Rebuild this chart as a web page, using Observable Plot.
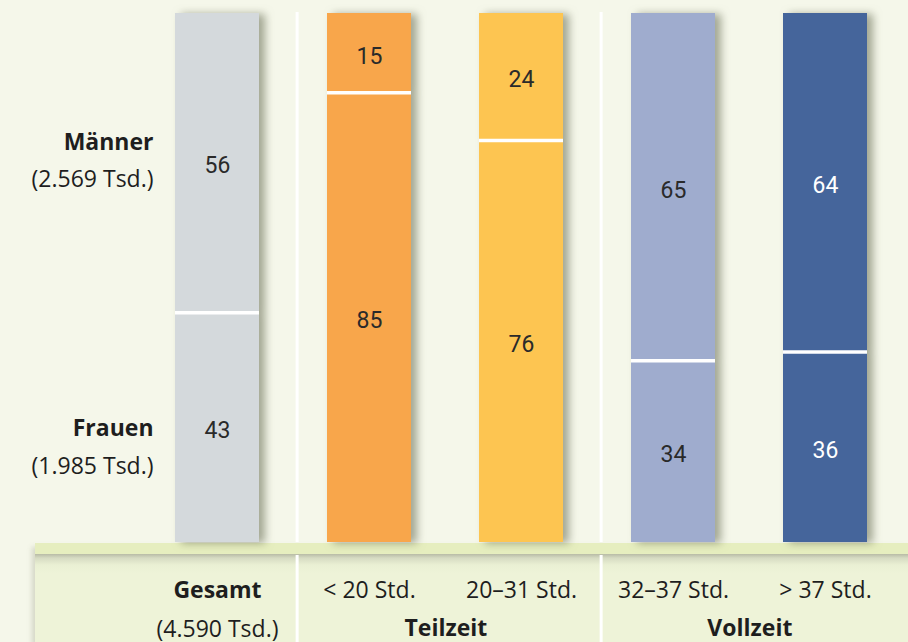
<!DOCTYPE html>
<html>
<head>
<meta charset="utf-8">
<script src="https://cdn.jsdelivr.net/npm/d3@7"></script>
<script src="https://cdn.jsdelivr.net/npm/@observablehq/plot@0.6"></script>
<style>
  html, body { margin: 0; padding: 0; background: #f5f7ea; }
  #wrap { position: relative; width: 908px; height: 642px; overflow: hidden; background: #f5f7ea; }
  #band {
    position: absolute; left: 35px; top: 543px; right: 0; bottom: 0;
    background: linear-gradient(to bottom, #e6eebf 0px, #e6eebf 11px, #b8bba6 11px, #d6dbc2 15px, #eaf0d4 22px, #eef3d8 30px);
    box-shadow: -3px 4px 5px rgba(120,125,100,0.25);
  }
  #chart { position: absolute; left: 0; top: 0; }
</style>
</head>
<body>
<div id="wrap"><div id="band"></div><div id="chart"></div></div>
<script>
// ---- data ----
const categories = ["Gesamt", "< 20 Std.", "20–31 Std.", "32–37 Std.", "> 37 Std."];
const frauen  = [43, 85, 76, 34, 36];
const maenner = [56, 15, 24, 65, 64];
const barColors = ["#d4d9dc", "#f8a64b", "#fdc551", "#9facce", "#45659b"];
const seriesNames = ["Frauen", "Männer"];
const seriesCounts = {"Männer": "(2.569 Tsd.)", "Frauen": "(1.985 Tsd.)"};
const totalLabel = "(4.590 Tsd.)";
const groups = [
  {name: "Teilzeit", first: "< 20 Std."},
  {name: "Vollzeit", first: "32–37 Std."}
];

const rows = [];
categories.forEach((c, i) => {
  rows.push({cat: c, series: "Frauen", value: frauen[i]});
  rows.push({cat: c, series: "Männer", value: maenner[i]});
});

// ---- layout ----
const xRange = [173, 868];
const padInner = 0.45;
const step = (xRange[1] - xRange[0]) / (categories.length - padInner);
const bandW = step * (1 - padInner);

const labelFont = "'Open Sans', 'Noto Sans', sans-serif";
const valueFont = "Roboto, 'Open Sans', sans-serif";
const stk = (extra) => ({x: "cat", y: "value", z: "series", offset: "normalize", ...extra});

const leftLabel = (series, field, dy, bold) => Plot.text(rows, Plot.stackY(stk({
  text: d => (d.cat === "Gesamt" && d.series === series) ? (field === "name" ? d.series : seriesCounts[d.series]) : null,
  textAnchor: "end", dx: -bandW / 2 - 22, dy,
  fontSize: 23, fontWeight: bold ? "bold" : "normal", fontFamily: labelFont, fill: "#1e1e1e"
})));

const chart = Plot.plot({
  width: 908,
  height: 642,
  marginTop: 13,
  marginBottom: 100,
  marginLeft: 0,
  marginRight: 0,
  style: {background: "transparent", overflow: "visible"},
  x: {domain: categories, range: xRange, paddingInner: padInner, paddingOuter: 0, axis: null},
  y: {domain: [0, 1], axis: null},
  color: {domain: categories, range: barColors},
  marks: [
    // group dividers
    Plot.ruleX(groups, {x: "first", dx: -step / 2 + 4, stroke: "white", strokeWidth: 3, insetTop: -1}),
    Plot.ruleX(groups, {x: "first", dx: -step / 2 + 4, stroke: "white", strokeWidth: 3, insetTop: 542, insetBottom: -100}),
    // stacked bars
    Plot.barY(rows, Plot.stackY(stk({fill: "cat"}))),
    // white separators between segments
    Plot.tickY(rows, Plot.stackY2(stk({stroke: d => d.series === "Frauen" ? "white" : "none", strokeWidth: 3.5}))),
    // values
    Plot.text(rows, Plot.stackY(stk({
      text: "value", dy: 3,
      fill: d => d.cat === "> 37 Std." ? "white" : "#2a2a2a",
      fontSize: 23, fontFamily: valueFont
    }))),
    // left series labels
    leftLabel("Männer", "name", -20, true),
    leftLabel("Männer", "count", 17, false),
    leftLabel("Frauen", "name", 1, true),
    leftLabel("Frauen", "count", 39, false),
    // bottom category labels
    Plot.text(categories.filter(c => c === "Gesamt"), {x: d => d, text: d => d, frameAnchor: "bottom", dy: 55,
      fontSize: 23, fontWeight: "bold", fontFamily: labelFont, fill: "#1e1e1e"}),
    Plot.text(categories.filter(c => c === "Gesamt"), {x: d => d, text: () => totalLabel, frameAnchor: "bottom", dy: 94,
      fontSize: 23, fontFamily: labelFont, fill: "#1e1e1e"}),
    Plot.text(categories.filter(c => c !== "Gesamt"), {x: d => d, text: d => d, frameAnchor: "bottom", dy: 55,
      fontSize: 23, fontFamily: labelFont, fill: "#1e1e1e"}),
    // group labels
    Plot.text(groups, {x: "first", dx: step / 2, text: "name", frameAnchor: "bottom", dy: 93,
      fontSize: 23, fontWeight: "bold", fontFamily: labelFont, fill: "#1e1e1e"})
  ]
});

document.getElementById("chart").appendChild(chart);

// soft drop shadow on the bars (style only)
const barGroup = Array.from(chart.querySelectorAll("g")).find(g => g.getAttribute("aria-label") === "bar");
if (barGroup) barGroup.style.filter = "drop-shadow(6px 1px 4px rgba(95,100,75,0.55))";
</script>
</body>
</html>
